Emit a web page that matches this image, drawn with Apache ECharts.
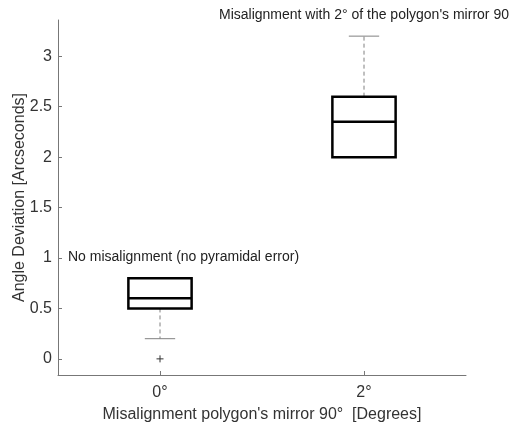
<!DOCTYPE html>
<html><head><meta charset="utf-8">
<script src="https://cdn.jsdelivr.net/npm/echarts@6/dist/echarts.min.js"></script>
<style>html,body{margin:0;padding:0;background:#fff}#c{width:510px;height:428px}</style>
</head><body><div id="c"></div>
<script>
var categories = ['0°', '2°'];
var whiskerLow = [0.2, 2.0];
var q1 = [0.5, 2.0];
var median = [0.6, 2.35];
var q3 = [0.8, 2.6];
var whiskerHigh = [0.8, 3.2];
var outliers = [[0, 0]];
var yTicks = [0, 0.5, 1, 1.5, 2, 2.5, 3];

var chart = echarts.init(document.getElementById('c'));
var boxData = categories.map(function (c, i) {
  return [i, whiskerLow[i], q1[i], median[i], q3[i], whiskerHigh[i]];
});
var font = 'Liberation Sans, Arial, sans-serif';
chart.setOption({
  animation: false,
  backgroundColor: '#fff',
  grid: { left: 58, top: 20, right: 44, bottom: 53, containLabel: false, outerBoundsMode: 'none' },
  xAxis: {
    type: 'category', data: categories, boundaryGap: true,
    axisLine: { onZero: false, lineStyle: { color: '#777', width: 1 } },
    axisTick: { show: true, inside: true, alignWithLabel: true, length: 4, lineStyle: { color: '#777' } },
    axisLabel: { color: '#333', fontSize: 16, fontFamily: font, margin: 10 },
    name: "Misalignment polygon's mirror 90°  [Degrees]",
    nameLocation: 'middle', nameGap: 32, nameMoveOverlap: false,
    nameTextStyle: { color: '#333', fontSize: 16, fontFamily: font }
  },
  yAxis: {
    type: 'value', min: -0.16, max: 3.36,
    splitLine: { show: false },
    axisLine: { show: true, onZero: false, lineStyle: { color: '#777', width: 1 } },
    axisTick: { show: true, inside: true, length: 4, customValues: yTicks, lineStyle: { color: '#777' } },
    axisLabel: {
      color: '#333', fontSize: 16, fontFamily: font, margin: 6,
      customValues: yTicks
    },
    name: 'Angle Deviation [Arcseconds]',
    nameLocation: 'middle', nameGap: 30, nameMoveOverlap: false,
    nameTextStyle: { color: '#333', fontSize: 16, fontFamily: font }
  },
  series: [{
    type: 'custom',
    data: boxData,
    encode: { x: 0, y: [1, 2, 3, 4, 5] },
    renderItem: function (params, api) {
      var x = api.value(0);
      var band = api.size([1, 0])[0];
      var bw = band * 0.31;
      var cw = bw * 0.48;
      var pLow = api.coord([x, api.value(1)]);
      var pQ1 = api.coord([x, api.value(2)]);
      var pMed = api.coord([x, api.value(3)]);
      var pQ3 = api.coord([x, api.value(4)]);
      var pHigh = api.coord([x, api.value(5)]);
      var cx = pQ1[0];
      var children = [];
      var gray = { stroke: '#808080', lineWidth: 1 };
      if (pHigh[1] < pQ3[1] - 0.5) {
        children.push({ type: 'line', shape: { x1: cx, y1: pQ3[1], x2: cx, y2: pHigh[1] }, style: { stroke: '#808080', lineWidth: 1, lineDash: [4, 3] } });
        children.push({ type: 'line', shape: { x1: cx - cw / 2, y1: pHigh[1], x2: cx + cw / 2, y2: pHigh[1] }, style: gray });
      }
      if (pLow[1] > pQ1[1] + 0.5) {
        children.push({ type: 'line', shape: { x1: cx, y1: pQ1[1], x2: cx, y2: pLow[1] }, style: { stroke: '#808080', lineWidth: 1, lineDash: [4, 3] } });
        children.push({ type: 'line', shape: { x1: cx - cw / 2, y1: pLow[1], x2: cx + cw / 2, y2: pLow[1] }, style: gray });
      }
      children.push({ type: 'rect', shape: { x: cx - bw / 2, y: pQ3[1], width: bw, height: pQ1[1] - pQ3[1] }, style: { fill: 'none', stroke: '#000', lineWidth: 2.5 } });
      children.push({ type: 'line', shape: { x1: cx - bw / 2, y1: pMed[1], x2: cx + bw / 2, y2: pMed[1] }, style: { stroke: '#000', lineWidth: 2.5 } });
      return { type: 'group', children: children };
    }
  }, {
    type: 'custom',
    data: outliers,
    renderItem: function (params, api) {
      var p = api.coord([api.value(0), api.value(1)]);
      var s = 3.5;
      return { type: 'group', children: [
        { type: 'line', shape: { x1: p[0] - s, y1: p[1], x2: p[0] + s, y2: p[1] }, style: { stroke: '#333', lineWidth: 1 } },
        { type: 'line', shape: { x1: p[0], y1: p[1] - s, x2: p[0], y2: p[1] + s }, style: { stroke: '#333', lineWidth: 1 } }
      ] };
    }
  }],
  graphic: [
    { type: 'text', left: 219, top: 8, style: { text: "Misalignment with 2° of the polygon's mirror 90", fill: '#222', font: '14px ' + font } },
    { type: 'text', left: 68, top: 250, style: { text: 'No misalignment (no pyramidal error)', fill: '#222', font: '14px ' + font } }
  ]
});
</script></body></html>
